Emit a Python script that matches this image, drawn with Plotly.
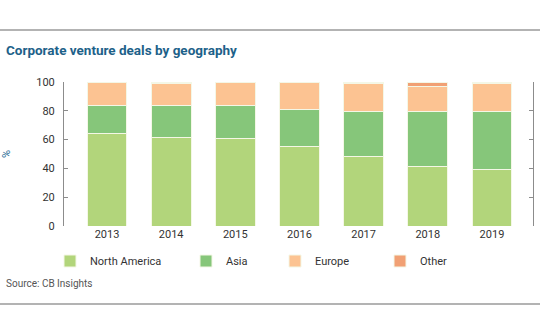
import plotly.graph_objects as go

years = ["2013", "2014", "2015", "2016", "2017", "2018", "2019"]
north_america = [64.5, 61.5, 61.0, 55.2, 48.2, 41.3, 39.4]
asia = [19.2, 22.2, 22.5, 25.5, 31.3, 38.2, 40.1]
europe = [16.0, 15.6, 16.2, 19.1, 19.3, 17.4, 19.3]
other = [0.3, 0.7, 0.3, 0.2, 1.2, 3.1, 1.2]

series = [
    ("North America", north_america, "#b2d57b"),
    ("Asia", asia, "#86c67a"),
    ("Europe", europe, "#fcc392"),
    ("Other", other, "#f1a074"),
]

W, H = 540, 334
L, R, T, B = 64, 7, 82, 108
PW, PH = W - L - R, H - T - B


def px_x(x):
    return (x - L) / PW


def px_y(y):
    return (H - B - y) / PH


legend_x = [50, 186, 275, 380]
legend_names = ["legend", "legend2", "legend3", "legend4"]

fig = go.Figure()
for i, (name, vals, col) in enumerate(series):
    fig.add_trace(go.Bar(
        x=years, y=vals, name=name,
        marker=dict(color=col, line=dict(color="#f4f7e6", width=1)),
        width=0.62,
        legend=legend_names[i],
    ))

layout_legends = {}
for i, ln in enumerate(legend_names):
    layout_legends[ln] = dict(
        xref="container", yref="container",
        x=legend_x[i] / W, y=(H - 261) / H, xanchor="left", yanchor="middle",
        orientation="h", bgcolor="rgba(0,0,0,0)",
        font=dict(family="Roboto", size=11, color="#333333"),
        itemwidth=30, tracegroupgap=0,
    )

fig.update_layout(
    width=W, height=H,
    margin=dict(l=L, r=R, t=T, b=B, autoexpand=False),
    barmode="stack",
    bargap=0.38,
    plot_bgcolor="white", paper_bgcolor="white",
    showlegend=True,
    font=dict(family="Roboto", size=11, color="#333333"),
    **layout_legends,
)

fig.update_xaxes(
    range=[-0.67, 6.64], showline=False, ticks="", showgrid=False,
    tickfont=dict(family="Roboto", size=11, color="#333333"),
)
fig.update_yaxes(
    range=[0, 100], dtick=20, showgrid=False, zeroline=False,
    showline=True, linecolor="#8c8c8c", linewidth=1, mirror="ticks",
    ticks="inside", ticklen=4, tickcolor="#8c8c8c",
    ticklabelstandoff=6,
    tickfont=dict(family="Roboto", size=11, color="#333333"),
    title=dict(text="%", font=dict(family="Roboto", size=11, color="#2a6d96"), standoff=26),
)

# Frame rules
for y in (30, 304):
    fig.add_shape(type="line", xref="paper", yref="paper",
                  x0=px_x(0), x1=px_x(540), y0=px_y(y), y1=px_y(y),
                  line=dict(color="#9a9a9a", width=1.5))

fig.add_annotation(
    text="<b>Corporate venture deals by geography</b>",
    xref="paper", yref="paper", x=px_x(4), y=px_y(50),
    xanchor="left", yanchor="middle", showarrow=False,
    font=dict(family="Roboto", size=13.5, color="#1d6189"),
)
fig.add_annotation(
    text="Source: CB Insights",
    xref="paper", yref="paper", x=px_x(4), y=px_y(283),
    xanchor="left", yanchor="middle", showarrow=False,
    font=dict(family="Roboto", size=10, color="#555555"),
)

fig.write_html("out.html")
